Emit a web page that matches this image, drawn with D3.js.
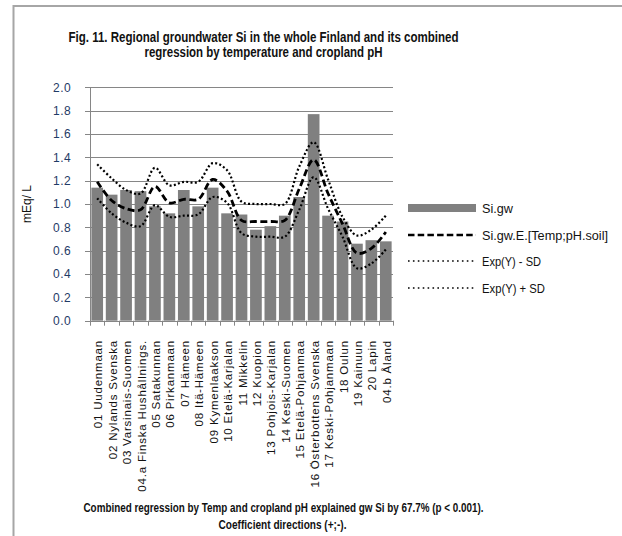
<!DOCTYPE html>
<html>
<head>
<meta charset="utf-8">
<script src="https://cdn.jsdelivr.net/npm/d3@7"></script>
<style>
  html, body { margin: 0; padding: 0; background: #fff; }
  svg { display: block; font-family: "Liberation Sans", Arial, sans-serif; }
</style>
</head>
<body>
<svg id="chart" width="622" height="536"></svg>
<script>
const categories = [
  "01 Uudenmaan", "02 Nylands Svenska", "03 Varsinais-Suomen", "04.a Finska Hushållnings.",
  "05 Satakunnan", "06 Pirkanmaan", "07 Hämeen", "08 Itä-Hämeen", "09 Kymenlaakson",
  "10 Etelä-Karjalan", "11 Mikkelin", "12 Kuopion", "13 Pohjois-Karjalan", "14 Keski-Suomen",
  "15 Etelä-Pohjanmaa", "16 Österbottens Svenska", "17 Keski-Pohjanmaan", "18 Oulun",
  "19 Kainuun", "20 Lapin", "04.b Åland"
];
const siGw      = [1.14, 1.08, 1.12, 1.11, 0.98, 0.92, 1.12, 0.98, 1.14, 0.92, 0.91, 0.78, 0.81, 0.90, 1.06, 1.77, 0.90, 0.85, 0.66, 0.69, 0.68];
const expected  = [1.19, 1.03, 0.96, 0.95, 1.15, 1.01, 1.04, 1.04, 1.21, 1.11, 0.86, 0.85, 0.85, 0.86, 1.13, 1.38, 1.09, 0.83, 0.58, 0.62, 0.76];
const minusSD   = [1.05, 0.92, 0.84, 0.81, 0.99, 0.89, 0.90, 0.91, 1.06, 1.01, 0.75, 0.72, 0.72, 0.72, 0.95, 1.23, 0.96, 0.72, 0.45, 0.49, 0.61];
const plusSD    = [1.34, 1.22, 1.12, 1.09, 1.31, 1.16, 1.19, 1.19, 1.35, 1.29, 1.02, 1.00, 1.00, 1.00, 1.32, 1.53, 1.21, 0.89, 0.73, 0.78, 0.90];
const yTicks    = [0.0, 0.2, 0.4, 0.6, 0.8, 1.0, 1.2, 1.4, 1.6, 1.8, 2.0];
const legendLabels = ["Si.gw", "Si.gw.E.[Temp;pH.soil]", "Exp(Y) - SD", "Exp(Y) + SD"];
const titleLines = ["Fig. 11. Regional groundwater Si in the whole Finland and its combined",
                    "regression by temperature and cropland pH"];
const footLines = ["Combined regression by Temp and cropland pH explained gw Si by 67.7%  (p < 0.001).",
                   "Coefficient directions (+;-)."];

const svg = d3.select("#chart");

// outer frame
svg.append("path").attr("d", "M13.5,536 L13.5,6 L622,6")
  .attr("fill", "none").attr("stroke", "#a6a6a6").attr("stroke-width", 2);

const L = 90, R = 393, T = 87.3, B = 320.7;
const x = d3.scaleBand().domain(categories).range([L, R]).paddingInner(0.19).paddingOuter(0.095);
const xc = d3.scaleBand().domain(categories).range([L, R]);
const y = d3.scaleLinear().domain([0, 2]).range([B, T]);

// gridlines
svg.append("g").selectAll("line").data(yTicks).join("line")
  .attr("x1", L - 5).attr("x2", R).attr("y1", d => Math.round(y(d)) + 0.5).attr("y2", d => Math.round(y(d)) + 0.5)
  .attr("stroke", "#868686").attr("stroke-width", 1);

// y tick labels
svg.append("g").selectAll("text").data(yTicks).join("text")
  .attr("x", 71).attr("y", d => y(d)).attr("dy", "0.35em")
  .attr("text-anchor", "end").attr("font-size", 12).attr("letter-spacing", 0.4).attr("fill", "#1f3b66")
  .text(d => d.toFixed(1));

// bars
svg.append("g").selectAll("rect").data(siGw).join("rect")
  .attr("x", (d, i) => x(categories[i])).attr("width", x.bandwidth())
  .attr("y", d => y(d)).attr("height", d => y(0) - y(d))
  .attr("fill", "#808080");

// y axis line
svg.append("line").attr("x1", L + 0.5).attr("x2", L + 0.5).attr("y1", T).attr("y2", B + 4)
  .attr("stroke", "#868686");
// x ticks between categories
const bounds = categories.map(c => xc(c)).concat([R]);
svg.append("g").selectAll("line").data(bounds).join("line")
  .attr("x1", d => Math.round(d) + 0.5).attr("x2", d => Math.round(d) + 0.5)
  .attr("y1", B).attr("y2", B + 5).attr("stroke", "#868686");

// x labels
svg.append("g").selectAll("text").data(categories).join("text")
  .attr("transform", d => `translate(${xc(d) + xc.bandwidth() / 2 + 1},340) rotate(-90)`)
  .attr("dy", "0.35em").attr("text-anchor", "end")
  .attr("font-size", 11.5).attr("letter-spacing", 0.8).attr("fill", "#111")
  .text(d => d);

// lines
const line = d3.line()
  .x((d, i) => xc(categories[i]) + xc.bandwidth() / 2)
  .y(d => y(d))
  .curve(d3.curveCatmullRom.alpha(0.5));

svg.append("path").datum(minusSD).attr("d", line).attr("fill", "none")
  .attr("stroke", "#000").attr("stroke-width", 2.2).attr("stroke-dasharray", "2,2.3");
svg.append("path").datum(plusSD).attr("d", line).attr("fill", "none")
  .attr("stroke", "#000").attr("stroke-width", 2.2).attr("stroke-dasharray", "2,2.3");
svg.append("path").datum(expected).attr("d", line).attr("fill", "none")
  .attr("stroke", "#000").attr("stroke-width", 2.8).attr("stroke-dasharray", "7,3.5");

// y axis title
svg.append("text").attr("transform", "translate(31,204) rotate(-90)")
  .attr("text-anchor", "middle").attr("font-size", 12).attr("fill", "#111")
  .text("mEq/ L");

// legend
const lg = svg.append("g");
const ly = [208, 235, 261, 288];
lg.append("rect").attr("x", 408).attr("y", ly[0] - 4).attr("width", 68).attr("height", 8).attr("fill", "#808080");
lg.append("line").attr("x1", 408).attr("x2", 476).attr("y1", ly[1]).attr("y2", ly[1])
  .attr("stroke", "#000").attr("stroke-width", 2.6).attr("stroke-dasharray", "6.5,3.2");
[2, 3].forEach(k => {
  lg.append("line").attr("x1", 408).attr("x2", 476).attr("y1", ly[k]).attr("y2", ly[k])
    .attr("stroke", "#000").attr("stroke-width", 1.6).attr("stroke-dasharray", "1.6,3.3");
});
const legW = [31, 126, 59, 63];
lg.selectAll("text").data(legendLabels).join("text")
  .attr("x", 482).attr("y", (d, i) => ly[i] + 1).attr("dy", "0.35em")
  .attr("font-size", 12).attr("fill", "#111")
  .attr("textLength", (d, i) => legW[i]).attr("lengthAdjust", "spacingAndGlyphs")
  .text(d => d);

// title
const tw = [390, 238];
svg.append("g").selectAll("text").data(titleLines).join("text")
  .attr("x", 263.5).attr("y", (d, i) => 37 + i * 15).attr("dy", "0.35em")
  .attr("text-anchor", "middle").attr("font-size", 14).attr("font-weight", "bold").attr("fill", "#111")
  .attr("textLength", (d, i) => tw[i]).attr("lengthAdjust", "spacingAndGlyphs")
  .text(d => d);

// footer
const fw = [400, 128];
svg.append("g").selectAll("text").data(footLines).join("text")
  .attr("x", (d, i) => i === 0 ? 283.5 : 282.5).attr("y", (d, i) => 508 + i * 17).attr("dy", "0.35em")
  .attr("text-anchor", "middle").attr("font-size", 12.5).attr("font-weight", "bold").attr("fill", "#111")
  .attr("textLength", (d, i) => fw[i]).attr("lengthAdjust", "spacingAndGlyphs")
  .text(d => d);
</script>
</body>
</html>
